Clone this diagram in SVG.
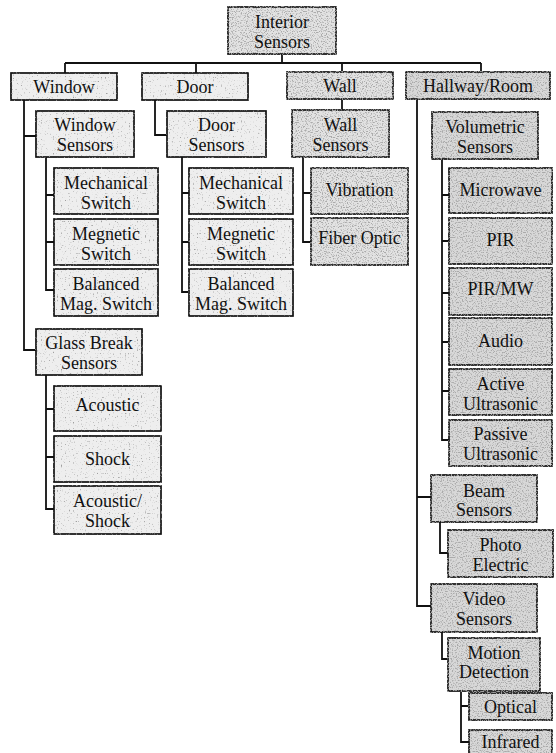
<svg xmlns="http://www.w3.org/2000/svg" width="556" height="753" viewBox="0 0 556 753">
<defs>
<filter id="sL" x="-0.05" y="-0.1" width="1.1" height="1.2">
<feTurbulence type="fractalNoise" baseFrequency="0.75" numOctaves="1" seed="3" result="n"/>
<feColorMatrix in="n" type="matrix" values="0 0 0 0 0.35  0 0 0 0 0.35  0 0 0 0 0.35  -6 0 0 0 2.3" result="d"/>
<feComposite in="d" in2="SourceGraphic" operator="in" result="c"/>
<feMerge><feMergeNode in="SourceGraphic"/><feMergeNode in="c"/></feMerge>
</filter>
<filter id="sD" x="-0.05" y="-0.1" width="1.1" height="1.2">
<feTurbulence type="fractalNoise" baseFrequency="0.8" numOctaves="1" seed="7" result="n"/>
<feColorMatrix in="n" type="matrix" values="0 0 0 0 0.4  0 0 0 0 0.4  0 0 0 0 0.4  -6 0 0 0 3.0" result="d"/>
<feComposite in="d" in2="SourceGraphic" operator="in" result="c"/>
<feMerge><feMergeNode in="SourceGraphic"/><feMergeNode in="c"/></feMerge>
</filter>
</defs>
<style>
.n rect{stroke:#111;stroke-width:1.7}
.l{fill:#eeeeee;filter:url(#sL)}
.m{fill:#e2e2e2;filter:url(#sD)}
.d{fill:#d8d8d8;filter:url(#sD)}
text{font-family:"Liberation Serif","Times New Roman","DejaVu Serif",serif;font-size:18px;fill:#111;text-anchor:middle}
.c path{fill:none;stroke:#111;stroke-width:1.8}
</style>
<rect x="0" y="0" width="556" height="753" style="fill:#fff;stroke:none"/>
<g class="c" id="connectors">
<path d="M282 54V63M65 63H481M65 63V73M196 63V73M342 63V72M481 63V72"/>
<path d="M24 100V350H36M24 136H36"/>
<path d="M155 100V135H167"/>
<path d="M342 99V110"/>
<path d="M417 99V606H431M417 497H431"/>
<path d="M46 157V290H54M46 195H54M46 242H54"/>
<path d="M182 157V292H189M182 193H189M182 242H189"/>
<path d="M303 157V242H311M303 193H311"/>
<path d="M46 375V509H54M46 409H54M46 457H54"/>
<path d="M442 159V440H449M442 195H449M442 241H449M442 293H449M442 342H449M442 391H449"/>
<path d="M440 522V553H448"/>
<path d="M442 632V659H448"/>
<path d="M461 691V742H469M461 706H469"/>
</g>
<g class="n">
<g id="interior"><rect class="m" x="228" y="7" width="108" height="47"/><text x="282" y="28">Interior</text><text x="282" y="48">Sensors</text></g>
<g id="window"><rect class="l" x="11" y="73" width="106" height="27"/><text x="64" y="93">Window</text></g>
<g id="door"><rect class="l" x="142" y="73" width="106" height="27"/><text x="195" y="93">Door</text></g>
<g id="wall"><rect class="m" x="287" y="72" width="106" height="27"/><text x="340" y="92">Wall</text></g>
<g id="hallway"><rect class="d" x="406" y="72" width="144" height="27"/><text x="478" y="92">Hallway/Room</text></g>
<g id="window-sensors"><rect class="l" x="36" y="111" width="98" height="46"/><text x="85" y="131">Window</text><text x="85" y="151">Sensors</text></g>
<g id="door-sensors"><rect class="l" x="167" y="111" width="99" height="46"/><text x="216.5" y="131">Door</text><text x="216.5" y="151">Sensors</text></g>
<g id="wall-sensors"><rect class="m" x="292" y="110" width="97" height="47"/><text x="340.5" y="131">Wall</text><text x="340.5" y="151">Sensors</text></g>
<g id="volumetric"><rect class="d" x="432" y="112" width="106" height="47"/><text x="485" y="133">Volumetric</text><text x="485" y="153">Sensors</text></g>
<g id="w-mech"><rect class="l" x="54" y="168" width="104" height="46"/><text x="106" y="189">Mechanical</text><text x="106" y="209">Switch</text></g>
<g id="w-mag"><rect class="l" x="54" y="219" width="104" height="46"/><text x="106" y="240">Megnetic</text><text x="106" y="260">Switch</text></g>
<g id="w-bal"><rect class="l" x="54" y="269" width="104" height="47"/><text x="106" y="290">Balanced</text><text x="106" y="310">Mag. Switch</text></g>
<g id="d-mech"><rect class="l" x="189" y="168" width="104" height="46"/><text x="241" y="189">Mechanical</text><text x="241" y="209">Switch</text></g>
<g id="d-mag"><rect class="l" x="189" y="219" width="104" height="46"/><text x="241" y="240">Megnetic</text><text x="241" y="260">Switch</text></g>
<g id="d-bal"><rect class="l" x="189" y="269" width="104" height="47"/><text x="241" y="290">Balanced</text><text x="241" y="310">Mag. Switch</text></g>
<g id="vibration"><rect class="m" x="311" y="168" width="97" height="46"/><text x="359.5" y="196">Vibration</text></g>
<g id="fiber"><rect class="m" x="311" y="218" width="97" height="47"/><text x="359.5" y="244">Fiber Optic</text></g>
<g id="glass"><rect class="l" x="36" y="329" width="106" height="46"/><text x="89" y="349">Glass Break</text><text x="89" y="369">Sensors</text></g>
<g id="acoustic"><rect class="l" x="54" y="386" width="107" height="45"/><text x="107.5" y="411">Acoustic</text></g>
<g id="shock"><rect class="l" x="54" y="436" width="107" height="46"/><text x="107.5" y="465">Shock</text></g>
<g id="acoustic-shock"><rect class="l" x="54" y="486" width="107" height="48"/><text x="107.5" y="507">Acoustic/</text><text x="107.5" y="527">Shock</text></g>
<g id="microwave"><rect class="d" x="449" y="168" width="103" height="45"/><text x="500.5" y="196">Microwave</text></g>
<g id="pir"><rect class="d" x="449" y="218" width="103" height="46"/><text x="500.5" y="246">PIR</text></g>
<g id="pirmw"><rect class="d" x="449" y="268" width="103" height="47"/><text x="500.5" y="295">PIR/MW</text></g>
<g id="audio"><rect class="d" x="449" y="318" width="103" height="47"/><text x="500.5" y="347">Audio</text></g>
<g id="active"><rect class="d" x="449" y="369" width="103" height="46"/><text x="500.5" y="390">Active</text><text x="500.5" y="410">Ultrasonic</text></g>
<g id="passive"><rect class="d" x="449" y="420" width="103" height="46"/><text x="500.5" y="440">Passive</text><text x="500.5" y="460">Ultrasonic</text></g>
<g id="beam"><rect class="d" x="431" y="475" width="106" height="47"/><text x="484" y="497">Beam</text><text x="484" y="516">Sensors</text></g>
<g id="photo"><rect class="d" x="448" y="530" width="105" height="47"/><text x="500.5" y="551">Photo</text><text x="500.5" y="571">Electric</text></g>
<g id="video"><rect class="d" x="431" y="584" width="106" height="48"/><text x="484" y="605">Video</text><text x="484" y="625">Sensors</text></g>
<g id="motion"><rect class="d" x="448" y="638" width="92" height="53"/><text x="494" y="659">Motion</text><text x="494" y="678">Detection</text></g>
<g id="optical"><rect class="d" x="469" y="693" width="83" height="27"/><text x="510.5" y="713">Optical</text></g>
<g id="infrared"><rect class="d" x="469" y="730" width="83" height="30"/><text x="510.5" y="748">Infrared</text></g>
</g>
</svg>
